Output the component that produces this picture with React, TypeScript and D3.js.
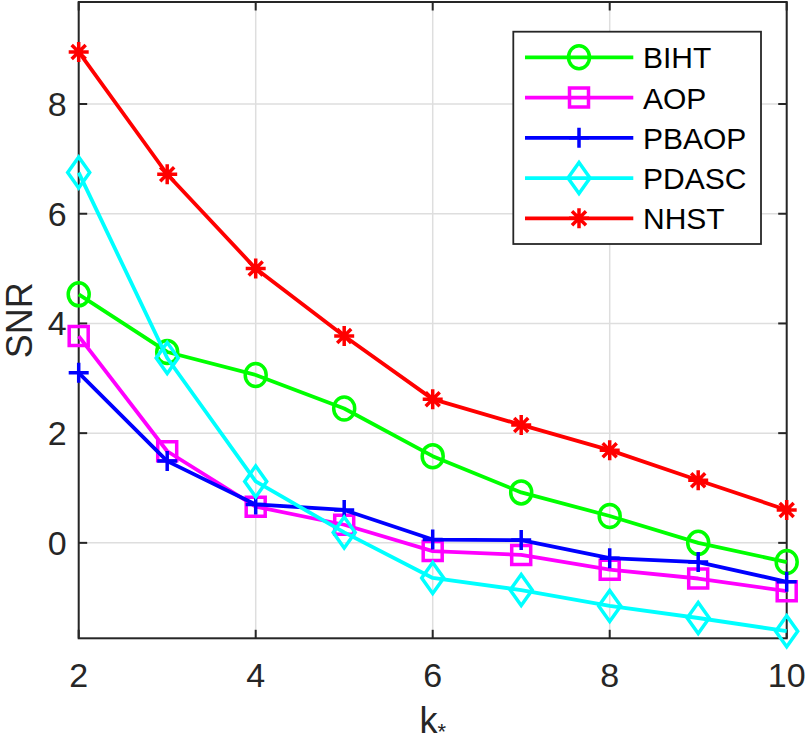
import { useEffect, useRef } from 'react'
import * as d3 from 'd3'

const K_VALUES = [2, 3, 4, 5, 6, 7, 8, 9, 10]
const BIHT = [4.53, 3.48, 3.06, 2.45, 1.58, 0.92, 0.49, 0.0, -0.35]
const AOP = [3.77, 1.67, 0.66, 0.33, -0.15, -0.22, -0.49, -0.65, -0.88]
const PBAOP = [3.1, 1.49, 0.7, 0.6, 0.06, 0.05, -0.28, -0.35, -0.71]
const PDASC = [6.75, 3.37, 1.12, 0.19, -0.64, -0.86, -1.15, -1.37, -1.61]
const NHST = [8.95, 6.72, 5.0, 3.77, 2.62, 2.15, 1.69, 1.14, 0.6]
const X_TICKS = [2, 4, 6, 8, 10]
const Y_TICKS = [0, 2, 4, 6, 8]

const SERIES = [
  { name: 'BIHT', values: BIHT, color: '#00ff00', marker: 'circle' },
  { name: 'AOP', values: AOP, color: '#ff00ff', marker: 'square' },
  { name: 'PBAOP', values: PBAOP, color: '#0000ff', marker: 'plus' },
  { name: 'PDASC', values: PDASC, color: '#00ffff', marker: 'diamond' },
  { name: 'NHST', values: NHST, color: '#ff0000', marker: 'star' },
]

const AX = '#262626'
const FONT = 'Liberation Sans, Arial, Helvetica, sans-serif'

// marker outline paths, centred on 0,0
function markerPath(kind: string) {
  switch (kind) {
    case 'circle': return 'M -10.5 0 A 10.5 11.5 0 1 0 10.5 0 A 10.5 11.5 0 1 0 -10.5 0 Z'
    case 'square': return 'M -9.5 -9.5 H 9.5 V 9.5 H -9.5 Z'
    case 'plus': return 'M -10 0 H 10 M 0 -10 V 10'
    case 'diamond': return 'M 0 -15.5 L 11 0 L 0 15.5 L -11 0 Z'
    default: return 'M -10 0 H 10 M 0 -10 V 10 M -7 -7 L 7 7 M -7 7 L 7 -7'
  }
}

export default function App() {
  const svgRef = useRef<SVGSVGElement>(null)

  useEffect(() => {
    if (!svgRef.current) return
    const W = 806, H = 744
    const margin = { top: 2, right: 19.3, bottom: 105.7, left: 78.7 }
    const iW = W - margin.left - margin.right
    const iH = H - margin.top - margin.bottom

    const svg = d3.select(svgRef.current).attr('viewBox', `0 0 ${W} ${H}`)
    svg.selectAll('*').remove()
    svg.append('rect').attr('width', W).attr('height', H).attr('fill', 'white')
    const g = svg.append('g').attr('transform', `translate(${margin.left},${margin.top})`)

    const x = d3.scaleLinear().domain([2, 10]).range([0, iW])
    const y = d3.scaleLinear().domain([-1.74, 9.86]).range([iH, 0])

    // grid
    X_TICKS.forEach((t) => {
      g.append('line').attr('x1', x(t)).attr('x2', x(t)).attr('y1', 0).attr('y2', iH)
        .attr('stroke', '#dedede').attr('stroke-width', 1.5)
    })
    Y_TICKS.forEach((t) => {
      g.append('line').attr('x1', 0).attr('x2', iW).attr('y1', y(t)).attr('y2', y(t))
        .attr('stroke', '#dedede').attr('stroke-width', 1.5)
    })

    // box + inward ticks
    g.append('rect').attr('x', 0).attr('y', 0).attr('width', iW).attr('height', iH)
      .attr('fill', 'none').attr('stroke', AX).attr('stroke-width', 2)
    const tl = 8.5
    X_TICKS.forEach((t) => {
      g.append('line').attr('x1', x(t)).attr('x2', x(t)).attr('y1', iH).attr('y2', iH - tl).attr('stroke', AX).attr('stroke-width', 2)
      g.append('line').attr('x1', x(t)).attr('x2', x(t)).attr('y1', 0).attr('y2', tl).attr('stroke', AX).attr('stroke-width', 2)
      g.append('text').attr('x', x(t)).attr('y', iH + 49).attr('text-anchor', 'middle')
        .attr('fill', AX).attr('font-size', 34).attr('font-family', FONT).text(t)
    })
    Y_TICKS.forEach((t) => {
      g.append('line').attr('x1', 0).attr('x2', tl).attr('y1', y(t)).attr('y2', y(t)).attr('stroke', AX).attr('stroke-width', 2)
      g.append('line').attr('x1', iW).attr('x2', iW - tl).attr('y1', y(t)).attr('y2', y(t)).attr('stroke', AX).attr('stroke-width', 2)
      g.append('text').attr('x', -12).attr('y', y(t) + 12).attr('text-anchor', 'end')
        .attr('fill', AX).attr('font-size', 34).attr('font-family', FONT).text(t)
    })

    // axis labels
    const xl = g.append('text').attr('x', iW / 2).attr('y', iH + 95).attr('text-anchor', 'middle')
      .attr('fill', AX).attr('font-size', 36).attr('font-family', FONT)
    xl.append('tspan').text('k')
    xl.append('tspan').attr('font-size', 22).attr('dy', 6).text('*')
    g.append('text').attr('transform', 'rotate(-90)').attr('x', -iH / 2).attr('y', -47)
      .attr('text-anchor', 'middle').attr('fill', AX).attr('font-size', 36).attr('font-family', FONT).text('SNR')

    // series
    const line = d3.line<number>().x((_, i) => x(K_VALUES[i])).y((d) => y(d))
    SERIES.forEach((s) => {
      g.append('path').datum(s.values).attr('fill', 'none').attr('stroke', s.color)
        .attr('stroke-width', 3.8).attr('stroke-linejoin', 'round').attr('d', line)
      s.values.forEach((v, i) => {
        g.append('path').attr('d', markerPath(s.marker))
          .attr('transform', `translate(${x(K_VALUES[i])},${y(v)})`)
          .attr('fill', 'none').attr('stroke', s.color).attr('stroke-width', 3.5)
      })
    })

    // legend
    const leg = svg.append('g')
    leg.append('rect').attr('x', 513.3).attr('y', 31.7).attr('width', 247.7).attr('height', 212.3)
      .attr('fill', 'white').attr('stroke', AX).attr('stroke-width', 1.8)
    SERIES.forEach((s, i) => {
      const ly = 57.3 + i * 40.25
      leg.append('line').attr('x1', 525).attr('x2', 633.3).attr('y1', ly).attr('y2', ly)
        .attr('stroke', s.color).attr('stroke-width', 3.8)
      leg.append('path').attr('d', markerPath(s.marker)).attr('transform', `translate(579,${ly})`)
        .attr('fill', 'none').attr('stroke', s.color).attr('stroke-width', 3.5)
      leg.append('text').attr('x', 643).attr('y', ly + 11).attr('fill', '#000')
        .attr('font-size', 30).attr('font-family', FONT).text(s.name)
    })
  }, [])

  return (
    <div style={{ position: 'absolute', left: 0, top: 0 }}>
      <svg ref={svgRef} width={806} height={744} style={{ display: 'block' }} />
    </div>
  )
}
